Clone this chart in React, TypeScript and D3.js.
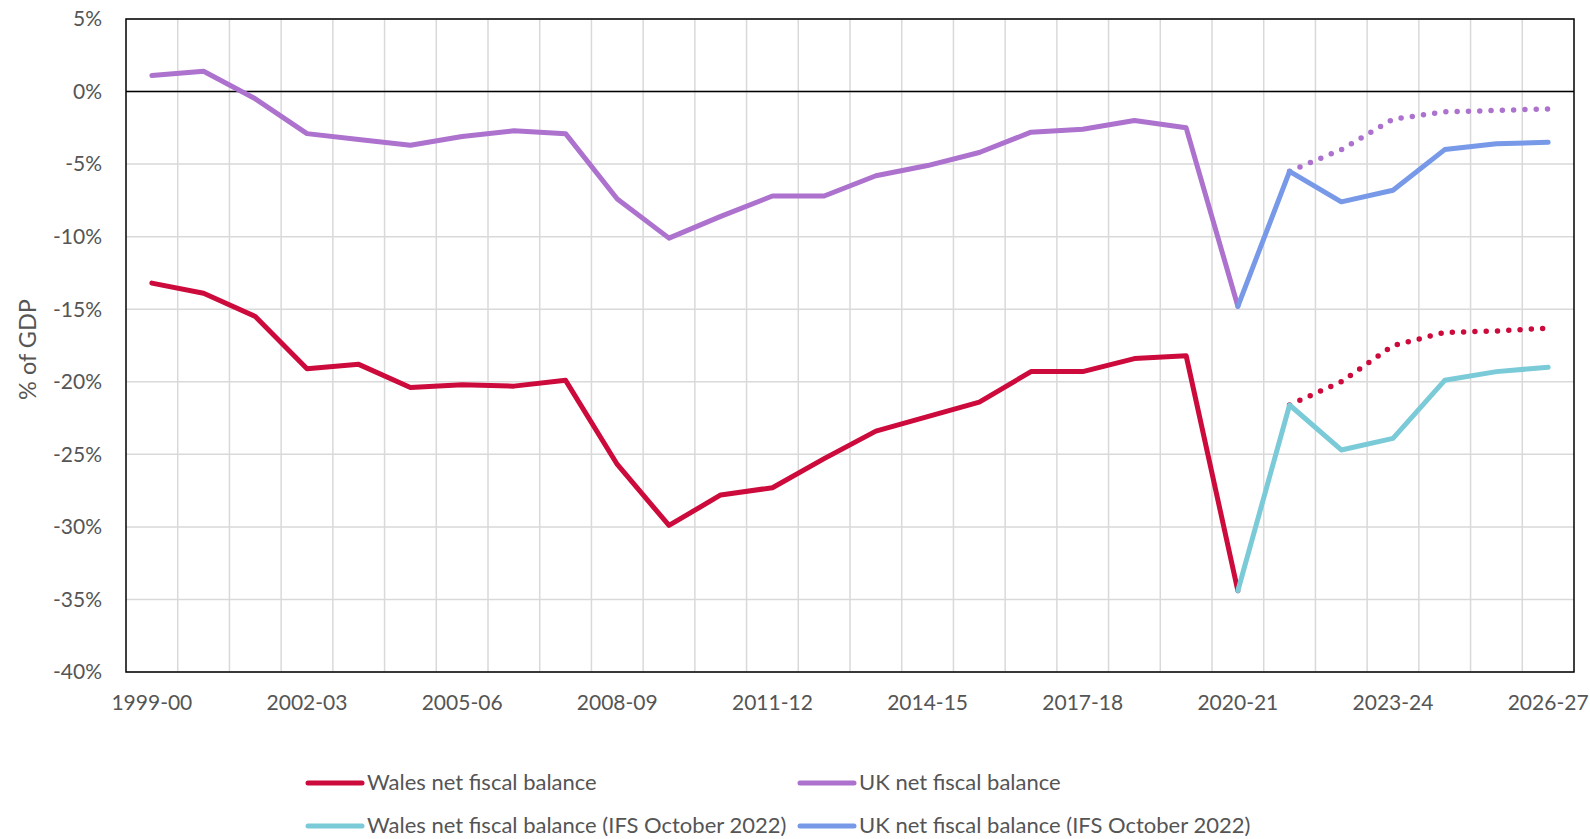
import React from "react";
import * as d3 from "d3";

const years = [
  "1999-00", "2000-01", "2001-02", "2002-03", "2003-04", "2004-05", "2005-06",
  "2006-07", "2007-08", "2008-09", "2009-10", "2010-11", "2011-12", "2012-13",
  "2013-14", "2014-15", "2015-16", "2016-17", "2017-18", "2018-19", "2019-20",
  "2020-21", "2021-22", "2022-23", "2023-24", "2024-25", "2025-26", "2026-27",
];

// null = no value for that year
const walesBalance = [
  -13.2, -13.9, -15.5, -19.1, -18.8, -20.4, -20.2, -20.3, -19.9, -25.7, -29.9,
  -27.8, -27.3, -25.3, -23.4, -22.4, -21.4, -19.3, -19.3, -18.4, -18.2, -34.4,
  -21.6, -20.0, -17.5, -16.6, -16.5, -16.3,
];
const ukBalance = [
  1.1, 1.4, -0.5, -2.9, -3.3, -3.7, -3.1, -2.7, -2.9, -7.4, -10.1, -8.6, -7.2,
  -7.2, -5.8, -5.1, -4.2, -2.8, -2.6, -2.0, -2.5, -14.8, -5.5, -4.0, -1.9,
  -1.4, -1.3, -1.2,
];
const walesIfs = [
  null, null, null, null, null, null, null, null, null, null, null, null, null,
  null, null, null, null, null, null, null, null, -34.4, -21.6, -24.7, -23.9,
  -19.9, -19.3, -19.0,
];
const ukIfs = [
  null, null, null, null, null, null, null, null, null, null, null, null, null,
  null, null, null, null, null, null, null, null, -14.8, -5.5, -7.6, -6.8,
  -4.0, -3.6, -3.5,
];
const yTicks = [5, 0, -5, -10, -15, -20, -25, -30, -35, -40];
const forecastFrom = 22; // index where the outturn lines turn dotted

const font = "Lato, 'Noto Sans', sans-serif";
const textColor = "#555555";

export default function App() {
  const W = 1590;
  const H = 839;
  const left = 126;
  const right = 1574;
  const top = 19;
  const bottom = 672;

  const x = d3.scaleBand<string>().domain(years).range([left, right]);
  const y = d3.scaleLinear().domain([5, -40]).range([top, bottom]);
  const cx = (i: number) => (x(years[i]) as number) + x.bandwidth() / 2;

  const line = d3
    .line<number | null>()
    .defined((d) => d !== null)
    .x((_, i) => cx(i))
    .y((d) => y(d as number));

  const solidPart = (arr: (number | null)[]) =>
    arr.map((d, i) => (i < forecastFrom ? d : null));
  const dotPart = (arr: (number | null)[]) =>
    arr.map((d, i) => (i >= forecastFrom ? d : null));

  const colors = {
    wales: "#CC0A3C",
    uk: "#AC72CE",
    walesIfs: "#7BCAD8",
    ukIfs: "#7799E8",
  };

  const legend = [
    { label: "Wales net fiscal balance", color: colors.wales, lx: 308, ly: 783 },
    { label: "UK net fiscal balance", color: colors.uk, lx: 800, ly: 783 },
    { label: "Wales net fiscal balance (IFS October 2022)", color: colors.walesIfs, lx: 308, ly: 826 },
    { label: "UK net fiscal balance (IFS October 2022)", color: colors.ukIfs, lx: 800, ly: 826 },
  ];

  const sw = 5;

  return (
    <svg
      width={W}
      height={H}
      style={{ position: "absolute", left: 0, top: 0, background: "#fff" }}
      fontFamily={font}
    >
      {/* horizontal grid */}
      {yTicks.map((t) => (
        <line key={"h" + t} x1={left} x2={right} y1={y(t)} y2={y(t)} stroke="#D9D9D9" strokeWidth={1.5} />
      ))}
      {/* vertical grid at band edges */}
      {years.slice(1).map((yr) => (
        <line key={"v" + yr} x1={x(yr)} x2={x(yr)} y1={top} y2={bottom} stroke="#D9D9D9" strokeWidth={1.5} />
      ))}
      {/* frame and zero line */}
      <rect x={left} y={top} width={right - left} height={bottom - top} fill="none" stroke="#000" strokeWidth={1.5} />
      <line x1={left} x2={right} y1={y(0)} y2={y(0)} stroke="#000" strokeWidth={1.5} />

      {/* y tick labels */}
      {yTicks.map((t) => (
        <text key={"yt" + t} x={102} y={y(t)} dy="0.35em" textAnchor="end" fontSize={21} fill={textColor}>
          {t + "%"}
        </text>
      ))}
      <text
        transform={`translate(28, ${(top + bottom) / 2 + 4}) rotate(-90)`}
        textAnchor="middle"
        dy="0.35em"
        fontSize={23.5}
        fill={textColor}
      >
        % of GDP
      </text>

      {/* x tick labels */}
      {years.map((yr, i) =>
        i % 3 === 0 ? (
          <text key={"xt" + yr} x={cx(i)} y={703} dy="0.35em" textAnchor="middle" fontSize={21} fill={textColor}>
            {yr}
          </text>
        ) : null
      )}

      {/* series */}
      <path d={line(solidPart(ukBalance)) ?? ""} fill="none" stroke={colors.uk} strokeWidth={sw} strokeLinejoin="round" strokeLinecap="round" />
      <path d={line(dotPart(ukBalance)) ?? ""} fill="none" stroke={colors.uk} strokeWidth={5.5} strokeDasharray="0 11.3" strokeLinecap="round" />
      <path d={line(ukIfs) ?? ""} fill="none" stroke={colors.ukIfs} strokeWidth={sw} strokeLinejoin="round" strokeLinecap="round" />
      <path d={line(solidPart(walesBalance)) ?? ""} fill="none" stroke={colors.wales} strokeWidth={sw} strokeLinejoin="round" strokeLinecap="round" />
      <path d={line(dotPart(walesBalance)) ?? ""} fill="none" stroke={colors.wales} strokeWidth={5.5} strokeDasharray="0 11.3" strokeLinecap="round" />
      <path d={line(walesIfs) ?? ""} fill="none" stroke={colors.walesIfs} strokeWidth={sw} strokeLinejoin="round" strokeLinecap="round" />

      {/* legend */}
      {legend.map((l) => (
        <g key={l.label}>
          <line x1={l.lx} x2={l.lx + 54} y1={l.ly} y2={l.ly} stroke={l.color} strokeWidth={5} strokeLinecap="round" />
          <text x={l.lx + 59} y={l.ly} dy="0.32em" fontSize={22} fill={textColor}>
            {l.label}
          </text>
        </g>
      ))}
    </svg>
  );
}
